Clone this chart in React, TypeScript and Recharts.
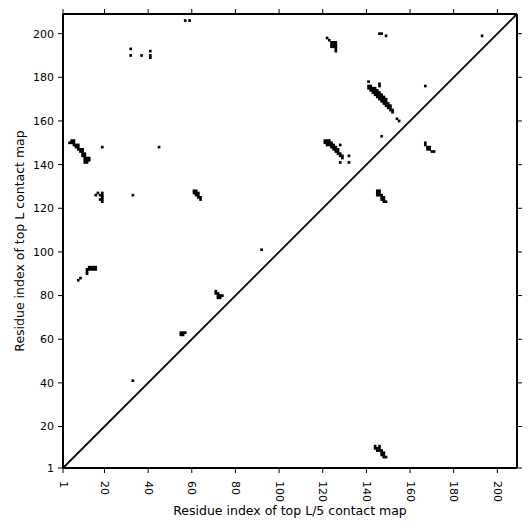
import { ScatterChart, Scatter, XAxis, YAxis, ReferenceLine } from "recharts";

// residue index ticks shared by both axes
const ticks = [1, 20, 40, 60, 80, 100, 120, 140, 160, 180, 200];
const seqMin = 1;
const seqMax = 209;

// upper triangle: top L contacts (x = residue i, y = residue j)
const topL: [number, number][] = [
  [4, 150], [5, 150], [5, 151], [6, 151], [6, 150], [6, 149], [7, 149], [8, 149],
  [7, 148], [8, 148], [8, 147], [9, 147], [10, 147], [9, 146], [10, 146], [10, 145],
  [11, 145], [10, 144], [11, 144], [11, 143], [12, 143], [13, 143], [11, 142], [12, 142],
  [13, 142], [11, 141], [12, 141],
  [19, 148], [45, 148],
  [32, 193], [32, 190], [37, 190], [41, 192], [41, 190], [41, 189],
  [57, 206], [59, 206],
  [122, 198], [123, 197], [124, 196], [125, 196], [126, 196], [124, 195], [125, 195],
  [126, 195], [124, 194], [125, 194], [126, 194], [126, 193], [126, 192],
  [146, 200], [147, 200], [149, 199], [193, 199], [167, 176],
  [141, 178], [146, 177], [146, 176],
  [141, 175], [141, 176], [142, 174], [142, 175], [142, 176], [143, 173], [143, 174],
  [143, 175], [144, 172], [144, 173], [144, 174], [144, 175], [145, 171], [145, 172],
  [145, 173], [145, 174], [146, 170], [146, 171], [146, 172], [146, 173], [147, 169],
  [147, 170], [147, 171], [147, 172], [148, 168], [148, 169], [148, 170], [148, 171],
  [149, 167], [149, 168], [149, 169], [149, 170], [150, 166], [150, 167], [150, 168],
  [151, 165], [151, 166], [151, 167], [152, 164], [152, 165],
  [154, 161], [155, 160], [147, 153],
  [121, 150], [121, 151], [122, 149], [122, 150], [122, 151], [123, 149], [123, 150],
  [123, 151], [124, 148], [124, 149], [124, 150], [125, 147], [125, 148], [125, 149],
  [126, 146], [126, 147], [126, 148], [127, 145], [127, 146], [127, 147], [128, 144],
  [128, 145], [129, 143], [129, 144],
  [128, 149], [132, 144], [128, 141], [132, 141],
  [16, 126], [17, 127], [18, 126], [19, 127], [19, 126], [19, 125], [19, 124], [18, 124],
  [19, 123],
  [33, 126],
  [12, 90], [12, 91], [12, 92], [13, 92], [14, 92], [15, 92], [13, 93], [14, 93],
  [15, 93], [16, 93], [16, 92],
  [8, 87], [9, 88],
  [61, 128], [62, 128], [61, 127], [62, 127], [63, 127], [63, 126], [62, 126], [63, 125],
  [64, 125], [64, 124],
  [92, 101],
  [71, 82], [71, 81], [72, 81], [72, 80], [73, 80], [74, 80], [73, 79], [72, 79],
  [55, 63], [56, 63], [57, 63], [55, 62], [56, 62],
  [33, 41],
];

// lower triangle: top L/5 contacts
const topL5: [number, number][] = [
  [145, 128], [146, 128], [145, 127], [146, 127], [145, 126], [146, 126], [147, 126],
  [147, 125], [148, 125], [147, 124], [148, 124], [148, 123], [149, 123],
  [144, 11], [144, 10], [146, 11], [145, 10], [146, 10], [145, 9], [146, 9], [147, 9],
  [147, 8], [148, 8], [147, 7], [148, 7], [148, 6], [149, 6],
  [167, 150], [167, 149], [168, 148], [169, 148], [168, 147], [169, 147], [170, 146],
  [171, 146],
];

const W = 515;
const H = 515;
const LEFT = 55;
const RIGHT = 6;
const TOP = 6;
const BOTTOM = 55;
const cell = (W - LEFT - RIGHT) / (seqMax - seqMin);

const font = "DejaVu Sans";

// one filled cell of the contact map, a bit oversized so neighbours merge
const Square = (props: any) => {
  const { cx, cy } = props;
  if (cx == null || cy == null) return null;
  const s = cell + 0.5;
  return <rect x={cx - s / 2} y={cy - s / 2} width={s} height={s} fill="#000" />;
};

const XTick = (props: any) => {
  const { x, y, payload } = props;
  return (
    <text
      x={x}
      y={y}
      transform={`rotate(90, ${x}, ${y})`}
      textAnchor="start"
      dominantBaseline="central"
      fontSize={11}
      fontFamily={font}
      fill="#000"
    >
      {payload.value}
    </text>
  );
};

export default function App() {
  const upper = topL.map(([x, y]) => ({ x, y }));
  const lower = topL5.map(([x, y]) => ({ x, y }));
  const axisLine = { stroke: "#000", strokeWidth: 2 };
  const tickLine = { stroke: "#000", strokeWidth: 1 };

  return (
    <ScatterChart
      width={W}
      height={H}
      margin={{ top: 0, right: 0, bottom: 0, left: 0 }}
      style={{ fontFamily: font }}
    >
      <XAxis
        xAxisId="b"
        dataKey="x"
        type="number"
        domain={[seqMin, seqMax]}
        ticks={ticks}
        allowDataOverflow
        height={BOTTOM}
        tickSize={5}
        tickMargin={8}
        axisLine={axisLine}
        tickLine={tickLine}
        tick={<XTick />}
        label={{
          value: "Residue index of top L/5 contact map",
          position: "insideBottom",
          offset: 8,
          fontSize: 12.5,
          fill: "#000",
        }}
      />
      <XAxis
        xAxisId="t"
        orientation="top"
        type="number"
        dataKey="x"
        domain={[seqMin, seqMax]}
        ticks={ticks}
        allowDataOverflow
        height={TOP}
        tickSize={5}
        axisLine={axisLine}
        tickLine={tickLine}
        tickFormatter={() => ""}
      />
      <YAxis
        yAxisId="l"
        dataKey="y"
        type="number"
        domain={[seqMin, seqMax]}
        ticks={ticks}
        allowDataOverflow
        width={LEFT}
        tickSize={5}
        tickMargin={4}
        axisLine={axisLine}
        tickLine={tickLine}
        tick={{ fontSize: 11, fill: "#000", fontFamily: font }}
        label={{
          value: "Residue index of top L contact map",
          angle: -90,
          position: "insideLeft",
          offset: 12,
          fontSize: 12.5,
          fill: "#000",
          style: { textAnchor: "middle" },
        }}
      />
      <YAxis
        yAxisId="r"
        orientation="right"
        dataKey="y"
        type="number"
        domain={[seqMin, seqMax]}
        ticks={ticks}
        allowDataOverflow
        width={RIGHT}
        tickSize={5}
        axisLine={axisLine}
        tickLine={tickLine}
        tickFormatter={() => ""}
      />
      <Scatter xAxisId="t" yAxisId="r" data={[]} isAnimationActive={false} />
      <Scatter xAxisId="b" yAxisId="l" data={upper} shape={<Square />} isAnimationActive={false} />
      <Scatter xAxisId="b" yAxisId="l" data={lower} shape={<Square />} isAnimationActive={false} />
      <ReferenceLine
        xAxisId="b"
        yAxisId="l"
        segment={[
          { x: seqMin, y: seqMin },
          { x: seqMax, y: seqMax },
        ]}
        stroke="#000"
        strokeWidth={1.8}
      />
    </ScatterChart>
  );
}
